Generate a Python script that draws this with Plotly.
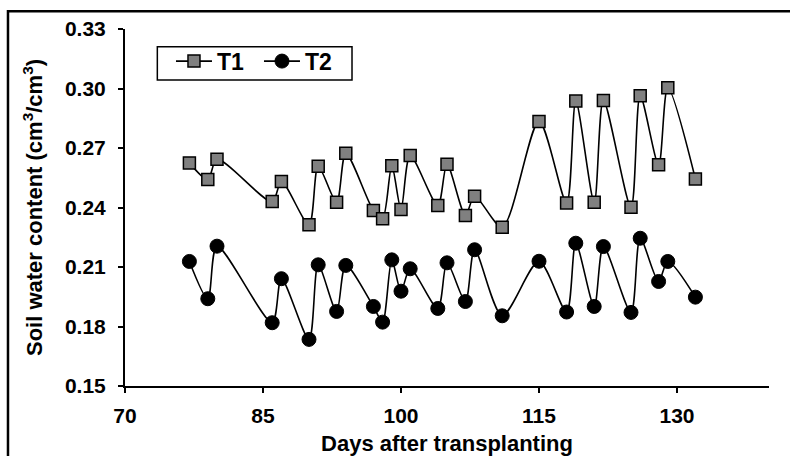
import plotly.graph_objects as go

# Days after transplanting (sampling dates)
days = [77, 79, 80, 86, 87, 90, 91, 93, 94, 97, 98, 99, 100, 101, 104, 105,
        107, 108, 111, 115, 118, 119, 121, 122, 125, 126, 128, 129, 132]

# Soil water content (cm3/cm3) for each treatment
t1 = [0.2625, 0.2541, 0.2643, 0.2430, 0.2531, 0.2313, 0.2608, 0.2426, 0.2673,
      0.2385, 0.2343, 0.2611, 0.2390, 0.2662, 0.2410, 0.2618, 0.2360, 0.2457,
      0.2301, 0.2834, 0.2423, 0.2937, 0.2426, 0.2940, 0.2401, 0.2964, 0.2615,
      0.3004, 0.2544]
t2 = [0.2128, 0.1940, 0.2205, 0.1819, 0.2041, 0.1735, 0.2111, 0.1876, 0.2108,
      0.1901, 0.1822, 0.2136, 0.1978, 0.2091, 0.1891, 0.2121, 0.1926, 0.2187,
      0.1854, 0.2129, 0.1873, 0.2220, 0.1901, 0.2203, 0.1871, 0.2245, 0.2027,
      0.2128, 0.1948]

x_ticks = [70, 85, 100, 115, 130]
y_ticks = [0.15, 0.18, 0.21, 0.24, 0.27, 0.30, 0.33]

FONT = "Arial, Liberation Sans, sans-serif"

fig = go.Figure()
fig.add_trace(go.Scatter(
    x=days, y=t1, name="T1", mode="lines+markers",
    line=dict(color="black", width=1.6, shape="spline", smoothing=0.8),
    marker=dict(symbol="square", size=12, color="#808080",
                line=dict(color="black", width=1.5)),
))
fig.add_trace(go.Scatter(
    x=days, y=t2, name="T2", mode="lines+markers",
    line=dict(color="black", width=1.6, shape="spline", smoothing=0.8),
    marker=dict(symbol="circle", size=14, color="black",
                line=dict(color="black", width=1)),
))

axis_common = dict(
    showgrid=False, zeroline=False, showline=True, linecolor="black",
    linewidth=2, ticks="outside", ticklen=5, tickwidth=2, tickcolor="black",
    automargin=False,
    tickfont=dict(family=FONT, size=21, color="black", weight="bold"),
)

fig.update_xaxes(
    range=[70, 140], tickvals=x_ticks, ticktext=[str(v) for v in x_ticks],
    ticklabelstandoff=5,
    title=dict(text="Days after transplanting", standoff=10,
               font=dict(family=FONT, size=22, color="black", weight="bold")),
    **axis_common,
)
fig.update_yaxes(
    range=[0.15, 0.33], tickvals=y_ticks,
    ticktext=[f"{v:.2f}" for v in y_ticks],
    ticklabelstandoff=8,
    title=dict(text="Soil water content (cm<sup>3</sup>/cm<sup>3</sup>)",
               standoff=16,
               font=dict(family=FONT, size=22, color="black", weight="bold")),
    **axis_common,
)

# Outer chart frame (left and top edges visible)
fig.add_shape(type="rect", xref="paper", yref="paper",
              x0=-0.1817, x1=1.2, y0=-0.5, y1=1.05,
              line=dict(color="black", width=2.5), layer="below")

# Legend box
fig.add_shape(type="rect", xref="paper", yref="paper",
              x0=0.0502, x1=0.3525, y0=0.857, y1=0.9504,
              line=dict(color="black", width=1.5), fillcolor="white",
              layer="below")

fig.update_layout(
    width=790, height=456,
    margin=dict(l=125, r=21, t=29, b=70),
    paper_bgcolor="white", plot_bgcolor="white",
    showlegend=True,
    legend=dict(
        orientation="h", x=0.0714, y=0.91, xanchor="left", yanchor="middle",
        bgcolor="rgba(0,0,0,0)", borderwidth=0,
        font=dict(family=FONT, size=23, color="black", weight="bold"),
        itemwidth=36, entrywidth=37, tracegroupgap=0,
    ),
)

fig.write_html("out.html")
